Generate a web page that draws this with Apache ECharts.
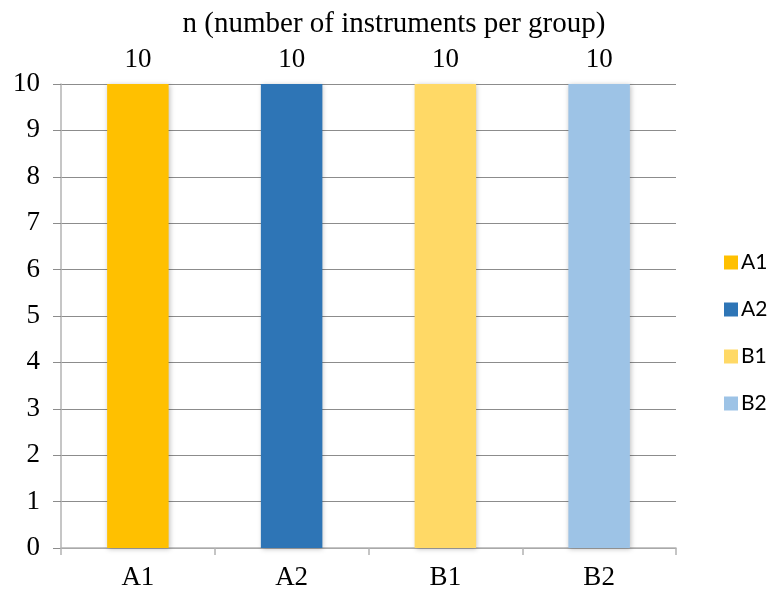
<!DOCTYPE html>
<html>
<head>
<meta charset="utf-8">
<script src="https://cdn.jsdelivr.net/npm/echarts@6/dist/echarts.min.js"></script>
<style>
  html, body { margin: 0; padding: 0; background: #fff; }
  #chart { width: 771px; height: 591px; }
</style>
</head>
<body>
<div id="chart"></div>
<script>
const categories = ['A1', 'A2', 'B1', 'B2']
const groupNames = ['A1', 'A2', 'B1', 'B2']
const counts = [10, 10, 10, 10]
const colors = ['#FFC000', '#2E75B6', '#FFD966', '#9DC3E6']
const yTicks = [0, 10, 1]

const serif = '"Liberation Serif", "DejaVu Serif", serif'

const chart = echarts.init(document.getElementById('chart'))

// one series per group so the legend lists each, stacked so each sits in its own slot
const series = groupNames.map((name, i) => ({
  name: name,
  type: 'bar',
  stack: 'n',
  barWidth: '40%',
  data: categories.map((c, j) => (j === i ? counts[i] : '-')),
  itemStyle: {
    color: colors[i],
    shadowColor: 'rgba(0, 0, 0, 0.25)',
    shadowBlur: 5,
    shadowOffsetX: 1,
    shadowOffsetY: 1
  },
  label: {
    show: true,
    position: 'top',
    distance: 11,
    color: '#000',
    fontFamily: serif,
    fontSize: 27
  }
}))

chart.setOption({
  animation: false,
  title: {
    text: 'n (number of instruments per group)',
    left: 389,
    textAlign: 'center',
    top: 5,
    textStyle: { fontFamily: serif, fontSize: 29, fontWeight: 'normal', color: '#000' }
  },
  legend: {
    orient: 'vertical',
    left: 719,
    top: 247,
    itemWidth: 14,
    itemHeight: 14,
    itemGap: 26,
    icon: 'rect',
    textStyle: { fontFamily: 'Lato, "Open Sans", sans-serif', fontSize: 21, color: '#000', padding: [0, 0, 0, -2] },
    data: groupNames
  },
  grid: { left: 61, right: 95, top: 84, bottom: 43 },
  xAxis: {
    type: 'category',
    data: categories,
    axisLine: { lineStyle: { color: '#b3b3b3', width: 1.5 } },
    axisTick: { show: true, length: 7, lineStyle: { color: '#b3b3b3', width: 1.5 } },
    axisLabel: { color: '#000', fontFamily: serif, fontSize: 27, margin: 16 }
  },
  yAxis: {
    type: 'value',
    min: yTicks[0],
    max: yTicks[1],
    interval: yTicks[2],
    axisLine: { show: true, lineStyle: { color: '#b3b3b3', width: 1.5 } },
    axisTick: { show: true, length: 8, lineStyle: { color: '#8c8c8c' } },
    axisLabel: { color: '#000', fontFamily: serif, fontSize: 27, margin: 21 },
    splitLine: { lineStyle: { color: '#8c8c8c', width: 1.2 } }
  },
  series: series
})
</script>
</body>
</html>
